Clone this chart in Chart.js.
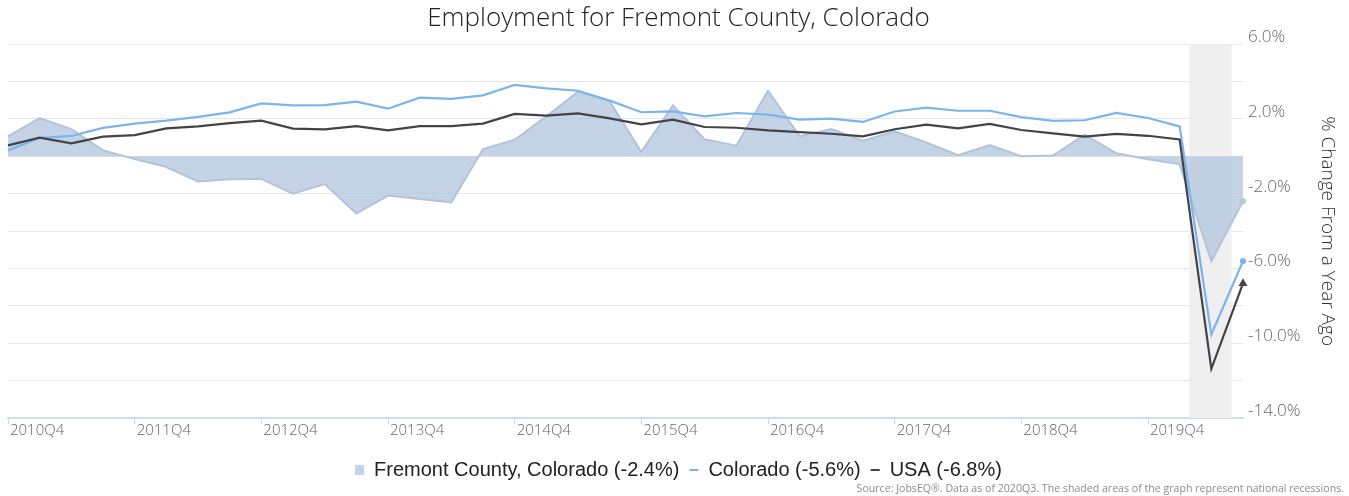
<!DOCTYPE html>
<html>
<head>
<meta charset="utf-8">
<script src="https://cdn.jsdelivr.net/npm/chart.js@4"></script>
<style>
  html, body { margin: 0; padding: 0; background: #fff; }
  #wrap { width: 1349px; height: 496px; position: relative; }
</style>
</head>
<body>
<div id="wrap"><canvas id="empChart"></canvas></div>
<script>
const quarters = [
  '2010Q4', '2011Q1', '2011Q2', '2011Q3', '2011Q4', '2012Q1', '2012Q2', '2012Q3',
  '2012Q4', '2013Q1', '2013Q2', '2013Q3', '2013Q4', '2014Q1', '2014Q2', '2014Q3',
  '2014Q4', '2015Q1', '2015Q2', '2015Q3', '2015Q4', '2016Q1', '2016Q2', '2016Q3',
  '2016Q4', '2017Q1', '2017Q2', '2017Q3', '2017Q4', '2018Q1', '2018Q2', '2018Q3',
  '2018Q4', '2019Q1', '2019Q2', '2019Q3', '2019Q4', '2020Q1', '2020Q2', '2020Q3'
];
const tickLabels = ['2010Q4', '2011Q4', '2012Q4', '2013Q4', '2014Q4', '2015Q4', '2016Q4', '2017Q4', '2018Q4', '2019Q4'];

const fremont = [1.07, 2.05, 1.46, 0.32, -0.14, -0.57, -1.35, -1.23, -1.21, -2.0,
  -1.48, -3.06, -2.1, -2.28, -2.46, 0.39, 0.89, 2.14, 3.46, 2.94,
  0.24, 2.73, 0.91, 0.57, 3.51, 1.07, 1.46, 0.84, 1.34, 0.75,
  0.06, 0.6, 0.01, 0.04, 1.16, 0.16, -0.16, -0.43, -5.61, -2.4];
const colorado = [0.32, 0.98, 1.09, 1.52, 1.75, 1.91, 2.11, 2.35, 2.83, 2.73,
  2.74, 2.93, 2.55, 3.14, 3.07, 3.26, 3.82, 3.64, 3.51, 2.98,
  2.36, 2.41, 2.14, 2.32, 2.23, 1.96, 2.02, 1.84, 2.4, 2.61,
  2.44, 2.44, 2.1, 1.9, 1.93, 2.32, 2.05, 1.6, -9.53, -5.6];
const usa = [0.59, 1.0, 0.7, 1.05, 1.14, 1.5, 1.6, 1.78, 1.91, 1.48,
  1.44, 1.62, 1.39, 1.62, 1.62, 1.75, 2.27, 2.18, 2.3, 2.03,
  1.71, 1.96, 1.57, 1.53, 1.39, 1.3, 1.21, 1.07, 1.45, 1.7,
  1.5, 1.74, 1.41, 1.23, 1.06, 1.2, 1.1, 0.9, -11.37, -6.8];

const seriesNames = ['Fremont County, Colorado (-2.4%)', 'Colorado (-5.6%)', 'USA (-6.8%)'];
const yTickLabels = [6, 2, -2, -6, -10, -14];

// recession band, in category index units (Feb 2020 - Apr 2020)
const recessionStart = 37.3;
const recessionEnd = 38.64;

const sourceNote = 'Source: JobsEQ®. Data as of 2020Q3. The shaded areas of the graph represent national recessions.';

function endMarker(arr, r) {
  return arr.map((v, i) => i === arr.length - 1 ? r : 0);
}

const recessionBand = {
  id: 'recessionBand',
  beforeDatasetsDraw(chart) {
    const { ctx, chartArea, scales } = chart;
    const x1 = scales.x.getPixelForValue(recessionStart);
    const x2 = scales.x.getPixelForValue(recessionEnd);
    ctx.save();
    ctx.fillStyle = '#efefef';
    ctx.fillRect(x1, chartArea.top, x2 - x1, chartArea.bottom - chartArea.top);
    ctx.restore();
  }
};

const sourceText = {
  id: 'sourceText',
  afterDraw(chart) {
    const ctx = chart.ctx;
    ctx.save();
    ctx.font = '10.6px "Open Sans"';
    ctx.fillStyle = '#8c8c8c';
    ctx.textAlign = 'right';
    ctx.textBaseline = 'middle';
    ctx.fillText(sourceNote, chart.width - 5, 489);
    ctx.restore();
  }
};

// drawn bottom-up: Fremont area first, USA on top; legend reversed back
chart = new Chart(document.getElementById('empChart'), {
  type: 'line',
  data: {
    labels: quarters,
    datasets: [
      {
        label: seriesNames[2],
        data: usa,
        borderColor: '#434348',
        backgroundColor: '#434348',
        borderWidth: 2.2,
        pointRadius: endMarker(usa, 3),
        pointStyle: 'triangle',
        legendStyle: 'line',
        tension: 0,
        fill: false
      },
      {
        label: seriesNames[1],
        data: colorado,
        borderColor: '#7cb5ec',
        backgroundColor: '#7cb5ec',
        borderWidth: 2.2,
        pointRadius: endMarker(colorado, 2),
        legendStyle: 'line',
        tension: 0,
        fill: false
      },
      {
        label: seriesNames[0],
        data: fremont,
        borderColor: '#b3c4da',
        backgroundColor: 'rgba(176, 196, 222, 0.75)',
        borderWidth: 2,
        pointRadius: endMarker(fremont, 2),
        legendStyle: 'rect',
        tension: 0,
        fill: 'origin'
      }
    ]
  },
  options: {
    responsive: true,
    maintainAspectRatio: false,
    animation: false,
    layout: { padding: { left: 8, right: 0, top: 0, bottom: 6 } },
    plugins: {
      title: {
        display: true,
        text: 'Employment for Fremont County, Colorado',
        color: '#222',
        font: { family: 'Open Sans', size: 26, weight: '300' },
        padding: { top: 3, bottom: 10 }
      },
      legend: {
        position: 'bottom',
        reverse: true,
        labels: {
          color: '#222',
          font: { family: 'Liberation Sans', size: 20 },
          usePointStyle: true,
          boxHeight: 10,
          pointStyleWidth: 9,
          padding: 10,
          generateLabels(c) {
            const items = Chart.defaults.plugins.legend.labels.generateLabels(c);
            items.forEach(it => {
              const ds = c.data.datasets[it.datasetIndex];
              it.pointStyle = ds.legendStyle;
              if (ds.legendStyle === 'rect') {
                it.fillStyle = ds.backgroundColor;
                it.strokeStyle = ds.backgroundColor;
                it.lineWidth = 0;
              } else {
                it.strokeStyle = ds.borderColor;
                it.lineWidth = 2;
              }
            });
            return items;
          }
        }
      },
      tooltip: { enabled: false }
    },
    scales: {
      x: {
        grid: {
          drawOnChartArea: false,
          drawTicks: true,
          tickLength: 6,
          color: ctx => (ctx.index % 4 === 0 ? '#ccd6eb' : 'rgba(0,0,0,0)')
        },
        border: { display: true, color: '#d3dceb', width: 2 },
        ticks: {
          autoSkip: false,
          maxRotation: 0,
          align: 'start',
          labelOffset: 2,
          padding: -2,
          color: '#666',
          font: { family: 'Open Sans', size: 15, weight: '300' },
          callback: (v, i) => (tickLabels.includes(quarters[i]) ? quarters[i] : '')
        },
        afterFit: s => { s.height = 32; }
      },
      y: {
        position: 'right',
        min: -14,
        max: 6,
        grid: { color: '#e6e6e6', drawTicks: false },
        border: { display: false },
        ticks: {
          stepSize: 2,
          padding: 5,
          labelOffset: -7,
          color: '#666',
          font: { family: 'Open Sans', size: 17, weight: '300' },
          callback: v => (yTickLabels.includes(v) ? v.toFixed(1) + '%' : '')
        },
        title: {
          display: true,
          text: '% Change From a Year Ago',
          color: '#333',
          font: { family: 'Open Sans', size: 19, weight: '300' },
          padding: { top: 10, bottom: 0 }
        },
        afterFit: s => { s.width = 106; }
      }
    }
  },
  plugins: [recessionBand, sourceText]
});
</script>
</body>
</html>
